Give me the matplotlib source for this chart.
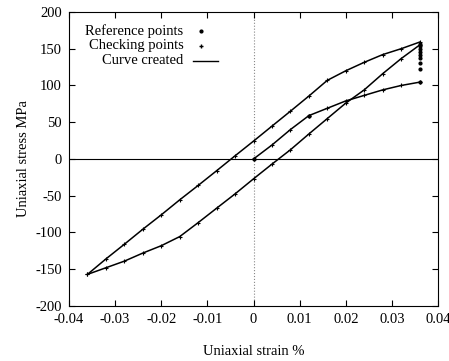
import matplotlib
matplotlib.use("Agg")
import matplotlib.pyplot as plt
from matplotlib.lines import Line2D

plt.rcParams["font.family"] = ["Liberation Serif", "DejaVu Serif"]
plt.rcParams["axes.unicode_minus"] = False

# virgin loading branch
virgin_x = [0.0, 0.004, 0.008, 0.012, 0.016, 0.020, 0.024, 0.028, 0.032, 0.036]
virgin_y = [0, 19, 40, 59, 69, 79, 86.5, 94, 100, 104.5]

# extra points at max strain
col_x = [0.036] * 8
col_y = [122, 130, 137, 142, 146, 150, 154, 157]

# unloading branch (max -> min)
down_x = [0.036, 0.032, 0.028, 0.024, 0.020, 0.016, 0.012, 0.008, 0.004, 0.0,
          -0.004, -0.008, -0.012, -0.016, -0.020, -0.024, -0.028, -0.032, -0.036]
down_y = [155, 136.5, 116, 94, 76, 55, 34, 12.5, -7, -27,
          -47.5, -67, -86.6, -105.6, -118, -128, -139, -148, -157]

# reloading branch (min -> max)
up_x = [-0.036, -0.032, -0.028, -0.024, -0.020, -0.016, -0.012, -0.008, -0.004, 0.0,
        0.004, 0.008, 0.012, 0.016, 0.020, 0.024, 0.028, 0.032, 0.036]
up_y = [-157, -136, -116, -95.6, -76, -55.6, -36, -16, 4.3, 24.3,
        44.7, 65, 85.6, 107, 120, 131.5, 142, 150, 159]

fig = plt.figure(figsize=(4.49, 3.61), dpi=100)
ax = fig.add_axes([0.1537, 0.1524, 0.8218, 0.8144])

ax.axhline(0, color="black", lw=0.8, zorder=1)
ax.axvline(0, color="#888888", lw=0.8, ls=":", zorder=1)

for xs, ys in [(virgin_x, virgin_y), (down_x, down_y), (up_x, up_y)]:
    ax.plot(xs, ys, color="black", lw=1.1, zorder=2)
    ax.plot(xs, ys, ls="none", marker="+", ms=3, mew=0.8, color="black", zorder=3)
ax.plot(col_x, col_y, ls="none", marker=".", ms=4, color="black", zorder=3)
ax.plot([virgin_x[0], virgin_x[3], virgin_x[-1]], [virgin_y[0], virgin_y[3], virgin_y[-1]],
        ls="none", marker=".", ms=4, color="black", zorder=3)

ax.set_xlim(-0.04, 0.04)
ax.set_ylim(-200, 200)
ax.set_xticks([-0.04, -0.03, -0.02, -0.01, 0, 0.01, 0.02, 0.03, 0.04])
ax.set_xticklabels(["-0.04", "-0.03", "-0.02", "-0.01", "0", "0.01", "0.02", "0.03", "0.04"])
ax.set_yticks(range(-200, 201, 50))
ax.tick_params(direction="in", top=True, right=True, length=4, labelsize=10.5, pad=5)
ax.set_xlabel("Uniaxial strain %", fontsize=10.5, labelpad=14)
ax.set_ylabel("Uniaxial stress MPa", fontsize=10.5, labelpad=4)

# gnuplot-style key
tr = ax.transAxes
ax.text(0.31, 0.935, "Reference points", transform=tr, ha="right", va="center", fontsize=10.5)
ax.text(0.31, 0.885, "Checking points", transform=tr, ha="right", va="center", fontsize=10.5)
ax.text(0.31, 0.834, "Curve created", transform=tr, ha="right", va="center", fontsize=10.5)
ax.add_line(Line2D([0.358], [0.935], transform=tr, marker=".", ms=4, color="black"))
ax.add_line(Line2D([0.358], [0.885], transform=tr, marker="+", ms=3, color="black"))
ax.add_line(Line2D([0.336, 0.403], [0.834, 0.834], transform=tr, color="black", lw=1.0))

fig.savefig("out.png", dpi=100)
